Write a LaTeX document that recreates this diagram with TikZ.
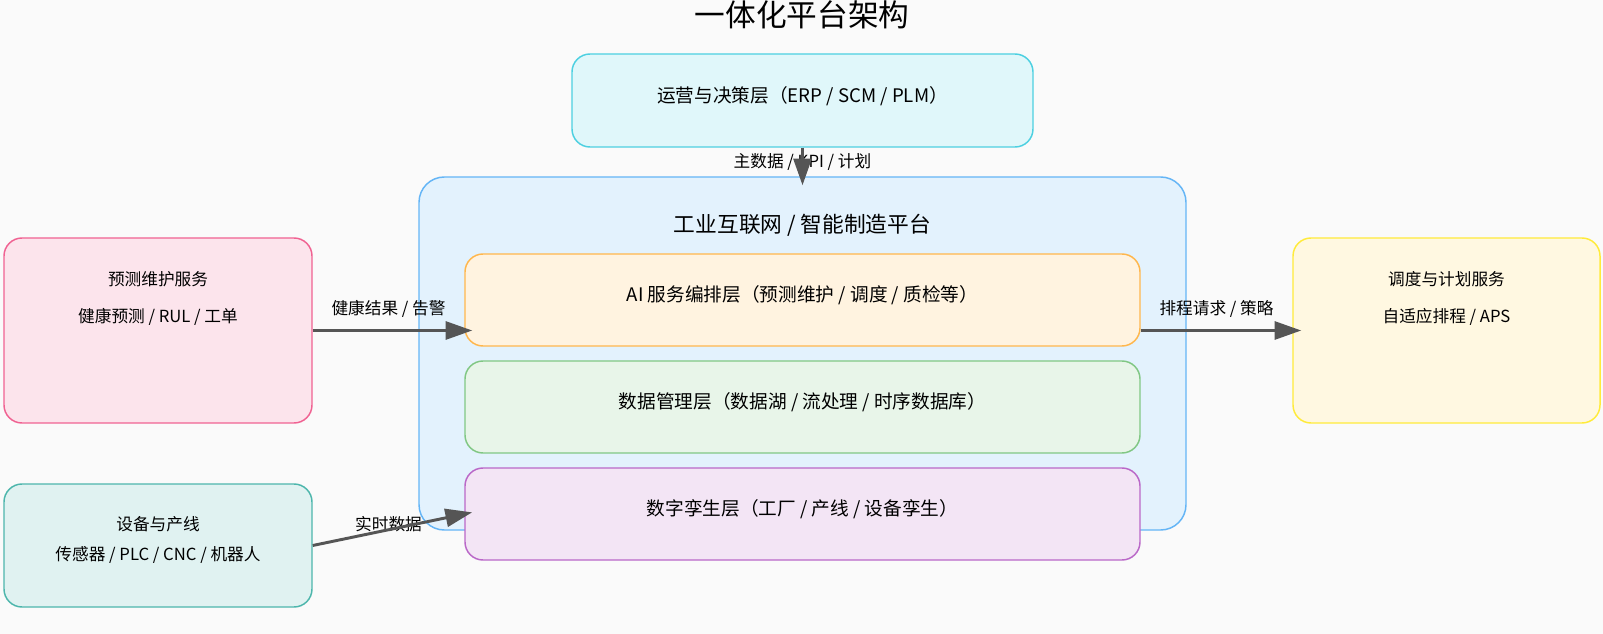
\documentclass[tikz,border=0pt]{standalone}
\usepackage{fontspec}
\setmainfont{Noto Sans CJK SC}
\usepackage{tikz}
\usetikzlibrary{arrows.meta, positioning}

\definecolor{bgcol}{HTML}{FAFAFA}
\definecolor{opsfill}{HTML}{E0F7FA}
\definecolor{opsdraw}{HTML}{4DD0E1}
\definecolor{platfill}{HTML}{E3F2FD}
\definecolor{platdraw}{HTML}{64B5F6}
\definecolor{aifill}{HTML}{FFF3E0}
\definecolor{aidraw}{HTML}{FFB74D}
\definecolor{datafill}{HTML}{E8F5E9}
\definecolor{datadraw}{HTML}{81C784}
\definecolor{twinfill}{HTML}{F3E5F5}
\definecolor{twindraw}{HTML}{BA68C8}
\definecolor{pmfill}{HTML}{FCE4EC}
\definecolor{pmdraw}{HTML}{F06292}
\definecolor{devfill}{HTML}{E0F2F1}
\definecolor{devdraw}{HTML}{4DB6AC}
\definecolor{schedfill}{HTML}{FFF8E1}
\definecolor{scheddraw}{HTML}{FFEB3B}
\definecolor{arrowgray}{HTML}{555555}

\begin{document}
\begin{tikzpicture}[x=0.75pt, y=-0.75pt,
  box/.style={draw, rounded corners=13.5pt, line width=1.1pt, inner sep=0pt},
  txt/.style={font=\fontsize{12.5}{15}\selectfont, text=black},
  layertxt/.style={font=\fontsize{14}{17}\selectfont, text=black, text depth=9pt},
  lbl/.style={font=\fontsize{12.5}{15}\selectfont, text=black, inner sep=1pt},
  flow/.style={line width=2.2pt, draw=arrowgray, -{Triangle[length=20pt, width=13.5pt]}}]
  % 背景
  \fill[bgcol] (0,0) rectangle (1603,634);
  \useasboundingbox (0,0) rectangle (1603,634);
  % 标题
  \node[font=\fontsize{23}{28}\selectfont] (title) at (802,15) {一体化平台架构};
  % 运营与决策层
  \node[box, layertxt, fill=opsfill, draw=opsdraw, minimum width=345.75pt, minimum height=69.75pt]
    (ops) at (802.5,100.5) {运营与决策层（ERP / SCM / PLM）};
  % 平台
  \node[box, fill=platfill, draw=platdraw, rounded corners=19pt, minimum width=575.25pt, minimum height=264.75pt]
    (plat) at (802.5,353.5) {};
  \node[font=\fontsize{16.3}{19}\selectfont] (plattitle) at (802.5,225) {工业互联网 / 智能制造平台};
  % 三个层
  \node[box, layertxt, fill=aifill, draw=aidraw, minimum width=506.25pt, minimum height=69pt]
    (ai) at (802.5,300) {AI 服务编排层（预测维护 / 调度 / 质检等）};
  \node[box, layertxt, fill=datafill, draw=datadraw, minimum width=506.25pt, minimum height=69pt]
    (data) at (802.5,407) {数据管理层（数据湖 / 流处理 / 时序数据库）};
  \node[box, layertxt, fill=twinfill, draw=twindraw, minimum width=506.25pt, minimum height=69pt]
    (twin) at (802.5,514) {数字孪生层（工厂 / 产线 / 设备孪生）};
  % 左右服务
  \node[box, fill=pmfill, draw=pmdraw, minimum width=231pt, minimum height=138.75pt] (pm) at (158,330.5) {};
  \node[txt] (pmtitle) at (158,279) {预测维护服务};
  \node[txt] (pmsub) at (158,317) {健康预测 / RUL / 工单};
  \node[box, fill=devfill, draw=devdraw, minimum width=231pt, minimum height=92.25pt] (dev) at (158,545.5) {};
  \node[txt] (devtitle) at (158,524) {设备与产线};
  \node[txt] (devsub) at (158,555) {传感器 / PLC / CNC / 机器人};
  \node[box, fill=schedfill, draw=scheddraw, minimum width=230.25pt, minimum height=138.75pt] (sched) at (1446.5,330.5) {};
  \node[txt] (schedtitle) at (1446.5,279) {调度与计划服务};
  \node[txt] (schedsub) at (1446.5,317) {自适应排程 / APS};
  % 连线
  \draw[flow, shorten >=-6.75pt] (ops.south) -- (plat.north)
    node[lbl, midway, behind path] (lplan) {主数据 / KPI / 计划};
  \draw[flow, shorten >=-6pt] (pm.east) -- (pm.east -| ai.west)
    node[lbl, midway, above=8pt] (lhealth) {健康结果 / 告警};
  \draw[flow, shorten >=-6.75pt] (ai.east |- sched.west) -- (sched.west)
    node[lbl, midway, above=8pt] (lsched) {排程请求 / 策略};
  \draw[flow, shorten >=-6pt] (dev.east) -- (twin.west)
    node[lbl, midway, yshift=4pt, behind path] (lreal) {实时数据};
\end{tikzpicture}
\end{document}
